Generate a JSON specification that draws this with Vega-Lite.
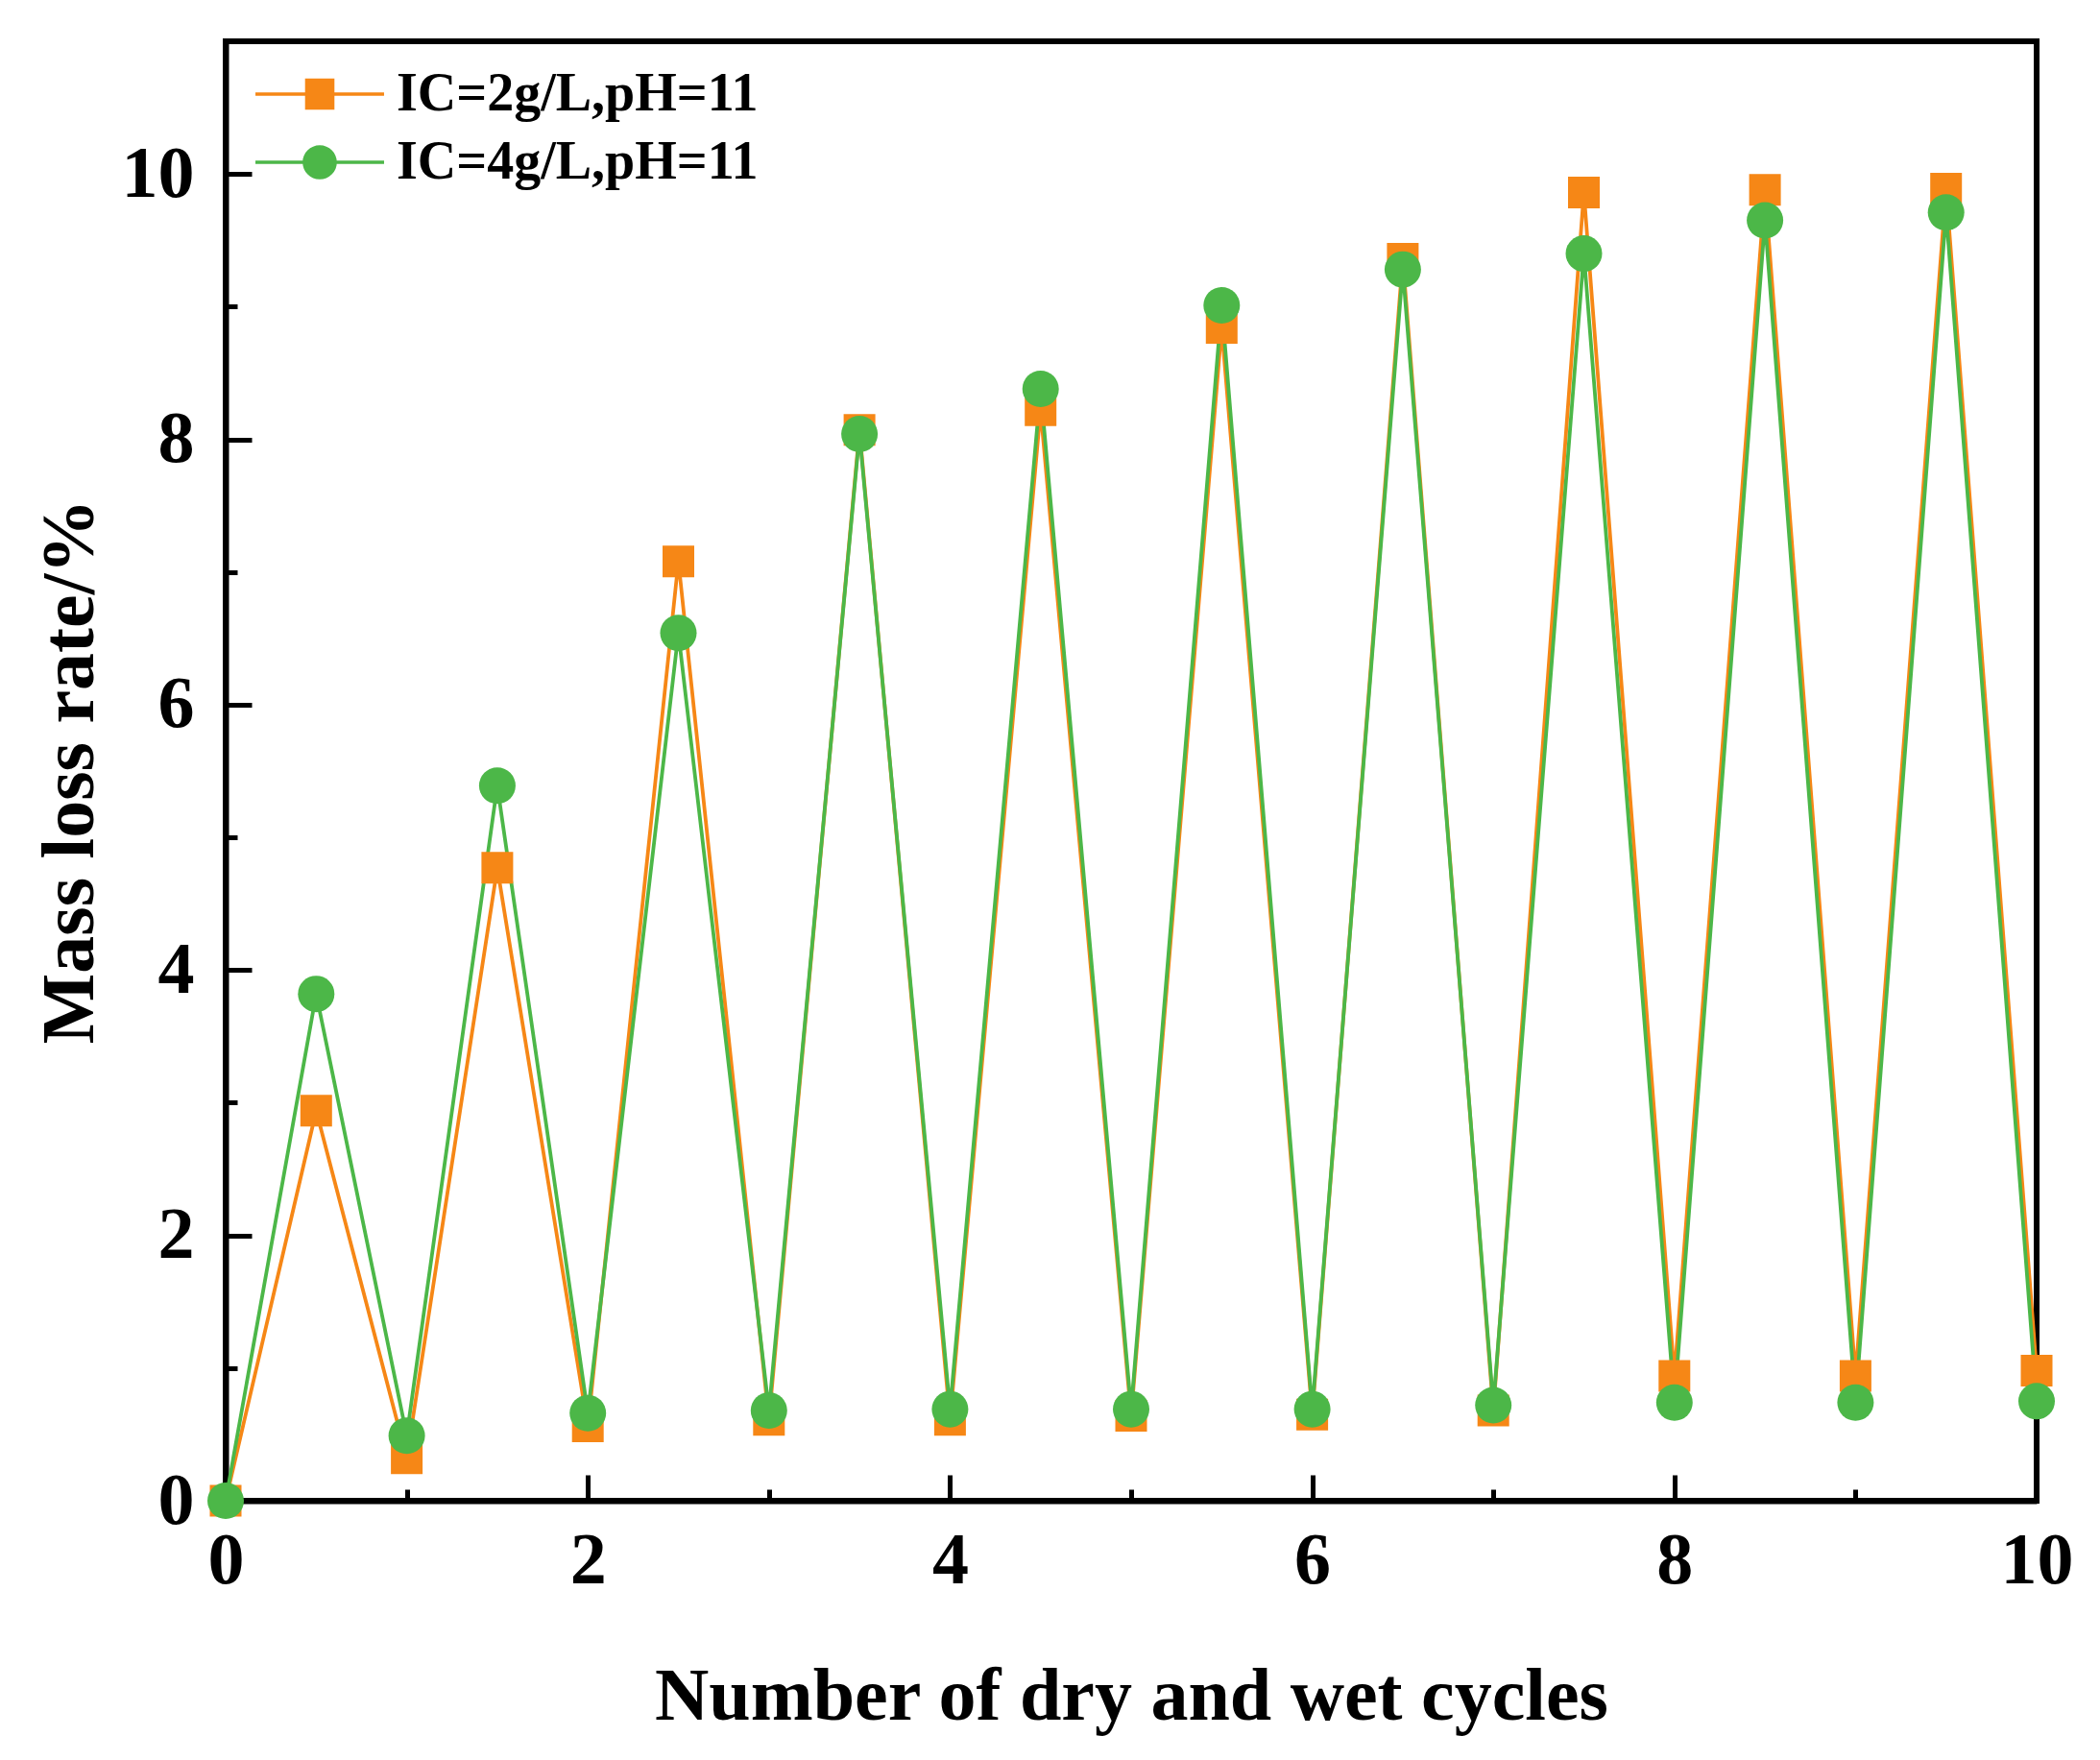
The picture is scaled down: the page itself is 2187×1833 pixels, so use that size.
{
  "$schema": "https://vega.github.io/schema/vega-lite/v6.json",
  "width": 1886,
  "height": 1520,
  "autosize": "none",
  "padding": {"left": 235, "top": 43, "right": 66, "bottom": 270},
  "background": "white",
  "config": {
    "view": {"stroke": "black", "strokeWidth": 6},
    "font": "Liberation Serif",
    "axis": {
      "grid": false,
      "domainColor": "black",
      "domainWidth": 6,
      "tickColor": "black",
      "tickWidth": 5,
      "labelColor": "black",
      "labelFont": "Liberation Serif",
      "labelFontSize": 76,
      "labelFontWeight": "bold",
      "titleColor": "black",
      "titleFont": "Liberation Serif",
      "titleFontSize": 78,
      "titleFontWeight": "bold",
      "labelFlush": false,
      "labelOverlap": false
    },
    "legend": {
      "orient": "none",
      "legendX": 70,
      "legendY": 27,
      "padding": 0,
      "labelFont": "Liberation Serif",
      "labelFontSize": 56,
      "labelFontWeight": "bold",
      "labelColor": "black",
      "labelOffset": 52,
      "labelLimit": 800,
      "symbolSize": 1156,
      "symbolStrokeWidth": 0,
      "symbolType": "M-3.94,-0.1H3.94V0.1H-3.94Z M-0.9,-0.95H0.9V0.95H-0.9Z",
      "rowPadding": 15
    }
  },
  "data": {
    "values": [
      {"s": "IC=2g/L,pH=11", "c": 0, "m": 0},
      {"s": "IC=2g/L,pH=11", "c": 0.5, "m": 2.94},
      {"s": "IC=2g/L,pH=11", "c": 1, "m": 0.32},
      {"s": "IC=2g/L,pH=11", "c": 1.5, "m": 4.77},
      {"s": "IC=2g/L,pH=11", "c": 2, "m": 0.56},
      {"s": "IC=2g/L,pH=11", "c": 2.5, "m": 7.08},
      {"s": "IC=2g/L,pH=11", "c": 3, "m": 0.61},
      {"s": "IC=2g/L,pH=11", "c": 3.5, "m": 8.07},
      {"s": "IC=2g/L,pH=11", "c": 4, "m": 0.61},
      {"s": "IC=2g/L,pH=11", "c": 4.5, "m": 8.22},
      {"s": "IC=2g/L,pH=11", "c": 5, "m": 0.64},
      {"s": "IC=2g/L,pH=11", "c": 5.5, "m": 8.84},
      {"s": "IC=2g/L,pH=11", "c": 6, "m": 0.65},
      {"s": "IC=2g/L,pH=11", "c": 6.5, "m": 9.36},
      {"s": "IC=2g/L,pH=11", "c": 7, "m": 0.68},
      {"s": "IC=2g/L,pH=11", "c": 7.5, "m": 9.86},
      {"s": "IC=2g/L,pH=11", "c": 8, "m": 0.94},
      {"s": "IC=2g/L,pH=11", "c": 8.5, "m": 9.88},
      {"s": "IC=2g/L,pH=11", "c": 9, "m": 0.94},
      {"s": "IC=2g/L,pH=11", "c": 9.5, "m": 9.89},
      {"s": "IC=2g/L,pH=11", "c": 10, "m": 0.98},
      {"s": "IC=4g/L,pH=11", "c": 0, "m": 0},
      {"s": "IC=4g/L,pH=11", "c": 0.5, "m": 3.82},
      {"s": "IC=4g/L,pH=11", "c": 1, "m": 0.49},
      {"s": "IC=4g/L,pH=11", "c": 1.5, "m": 5.39},
      {"s": "IC=4g/L,pH=11", "c": 2, "m": 0.66},
      {"s": "IC=4g/L,pH=11", "c": 2.5, "m": 6.54},
      {"s": "IC=4g/L,pH=11", "c": 3, "m": 0.68},
      {"s": "IC=4g/L,pH=11", "c": 3.5, "m": 8.04},
      {"s": "IC=4g/L,pH=11", "c": 4, "m": 0.69},
      {"s": "IC=4g/L,pH=11", "c": 4.5, "m": 8.38},
      {"s": "IC=4g/L,pH=11", "c": 5, "m": 0.69},
      {"s": "IC=4g/L,pH=11", "c": 5.5, "m": 9.01},
      {"s": "IC=4g/L,pH=11", "c": 6, "m": 0.69},
      {"s": "IC=4g/L,pH=11", "c": 6.5, "m": 9.28},
      {"s": "IC=4g/L,pH=11", "c": 7, "m": 0.72},
      {"s": "IC=4g/L,pH=11", "c": 7.5, "m": 9.4},
      {"s": "IC=4g/L,pH=11", "c": 8, "m": 0.74},
      {"s": "IC=4g/L,pH=11", "c": 8.5, "m": 9.65},
      {"s": "IC=4g/L,pH=11", "c": 9, "m": 0.74},
      {"s": "IC=4g/L,pH=11", "c": 9.5, "m": 9.71},
      {"s": "IC=4g/L,pH=11", "c": 10, "m": 0.75}
    ]
  },
  "layer": [
    {
      "mark": {"type": "line", "strokeWidth": 3.8},
      "encoding": {
        "x": {
          "field": "c",
          "type": "quantitative",
          "scale": {"domain": [0, 10], "nice": false},
          "axis": {
            "values": [0, 2, 4, 6, 8, 10],
            "format": "d",
            "tickSize": -27,
            "labelPadding": 52,
            "title": "Number of dry and wet cycles",
            "titlePadding": 65
          }
        },
        "y": {
          "field": "m",
          "type": "quantitative",
          "scale": {"domain": [0, 11], "nice": false},
          "axis": {
            "values": [0, 2, 4, 6, 8, 10],
            "format": "d",
            "tickSize": -27,
            "labelPadding": 60,
            "title": "Mass loss rate/%",
            "titlePadding": 14
          }
        },
        "color": {
          "field": "s",
          "type": "nominal",
          "scale": {"domain": ["IC=2g/L,pH=11", "IC=4g/L,pH=11"], "range": ["#F68716", "#4CB748"]},
          "legend": {
            "title": null,
            "encode": {
              "symbols": {
                "update": {
                  "fill": {"scale": "color", "field": "value"},
                  "strokeWidth": {"value": 0},
                  "shape": {"signal": "datum.value === 'IC=2g/L,pH=11' ? 'M-3.94,-0.1H3.94V0.1H-3.94Z M-0.9,-0.95H0.9V0.95H-0.9Z' : 'M-3.94,-0.1H3.94V0.1H-3.94Z M1.05,0A1.05,1.05 0 1,1 -1.05,0A1.05,1.05 0 1,1 1.05,0Z'"}
                }
              }
            }
          }
        }
      }
    },
    {
      "transform": [{"filter": "datum.s === 'IC=2g/L,pH=11'"}],
      "mark": {"type": "point", "filled": true, "opacity": 1, "shape": "square", "size": 1089},
      "encoding": {
        "x": {
          "field": "c",
          "type": "quantitative",
          "axis": {
            "orient": "bottom",
            "values": [1, 3, 5, 7, 9],
            "tickSize": -12,
            "labels": false,
            "domain": false,
            "title": null
          }
        },
        "y": {
          "field": "m",
          "type": "quantitative",
          "axis": {
            "orient": "left",
            "values": [1, 3, 5, 7, 9],
            "tickSize": -12,
            "labels": false,
            "domain": false,
            "title": null
          }
        },
        "color": {
          "field": "s",
          "type": "nominal",
          "legend": {
            "title": null,
            "encode": {
              "symbols": {
                "update": {
                  "fill": {"scale": "color", "field": "value"},
                  "strokeWidth": {"value": 0},
                  "shape": {"signal": "datum.value === 'IC=2g/L,pH=11' ? 'M-3.94,-0.1H3.94V0.1H-3.94Z M-0.9,-0.95H0.9V0.95H-0.9Z' : 'M-3.94,-0.1H3.94V0.1H-3.94Z M1.05,0A1.05,1.05 0 1,1 -1.05,0A1.05,1.05 0 1,1 1.05,0Z'"}
                }
              }
            }
          }
        }
      }
    },
    {
      "transform": [{"filter": "datum.s === 'IC=4g/L,pH=11'"}],
      "mark": {"type": "point", "filled": true, "opacity": 1, "shape": "circle", "size": 1444},
      "encoding": {
        "x": {"field": "c", "type": "quantitative", "axis": null},
        "y": {"field": "m", "type": "quantitative", "axis": null},
        "color": {
          "field": "s",
          "type": "nominal",
          "legend": {
            "title": null,
            "encode": {
              "symbols": {
                "update": {
                  "fill": {"scale": "color", "field": "value"},
                  "strokeWidth": {"value": 0},
                  "shape": {"signal": "datum.value === 'IC=2g/L,pH=11' ? 'M-3.94,-0.1H3.94V0.1H-3.94Z M-0.9,-0.95H0.9V0.95H-0.9Z' : 'M-3.94,-0.1H3.94V0.1H-3.94Z M1.05,0A1.05,1.05 0 1,1 -1.05,0A1.05,1.05 0 1,1 1.05,0Z'"}
                }
              }
            }
          }
        }
      }
    }
  ],
  "resolve": {"axis": {"x": "independent", "y": "independent"}}
}
